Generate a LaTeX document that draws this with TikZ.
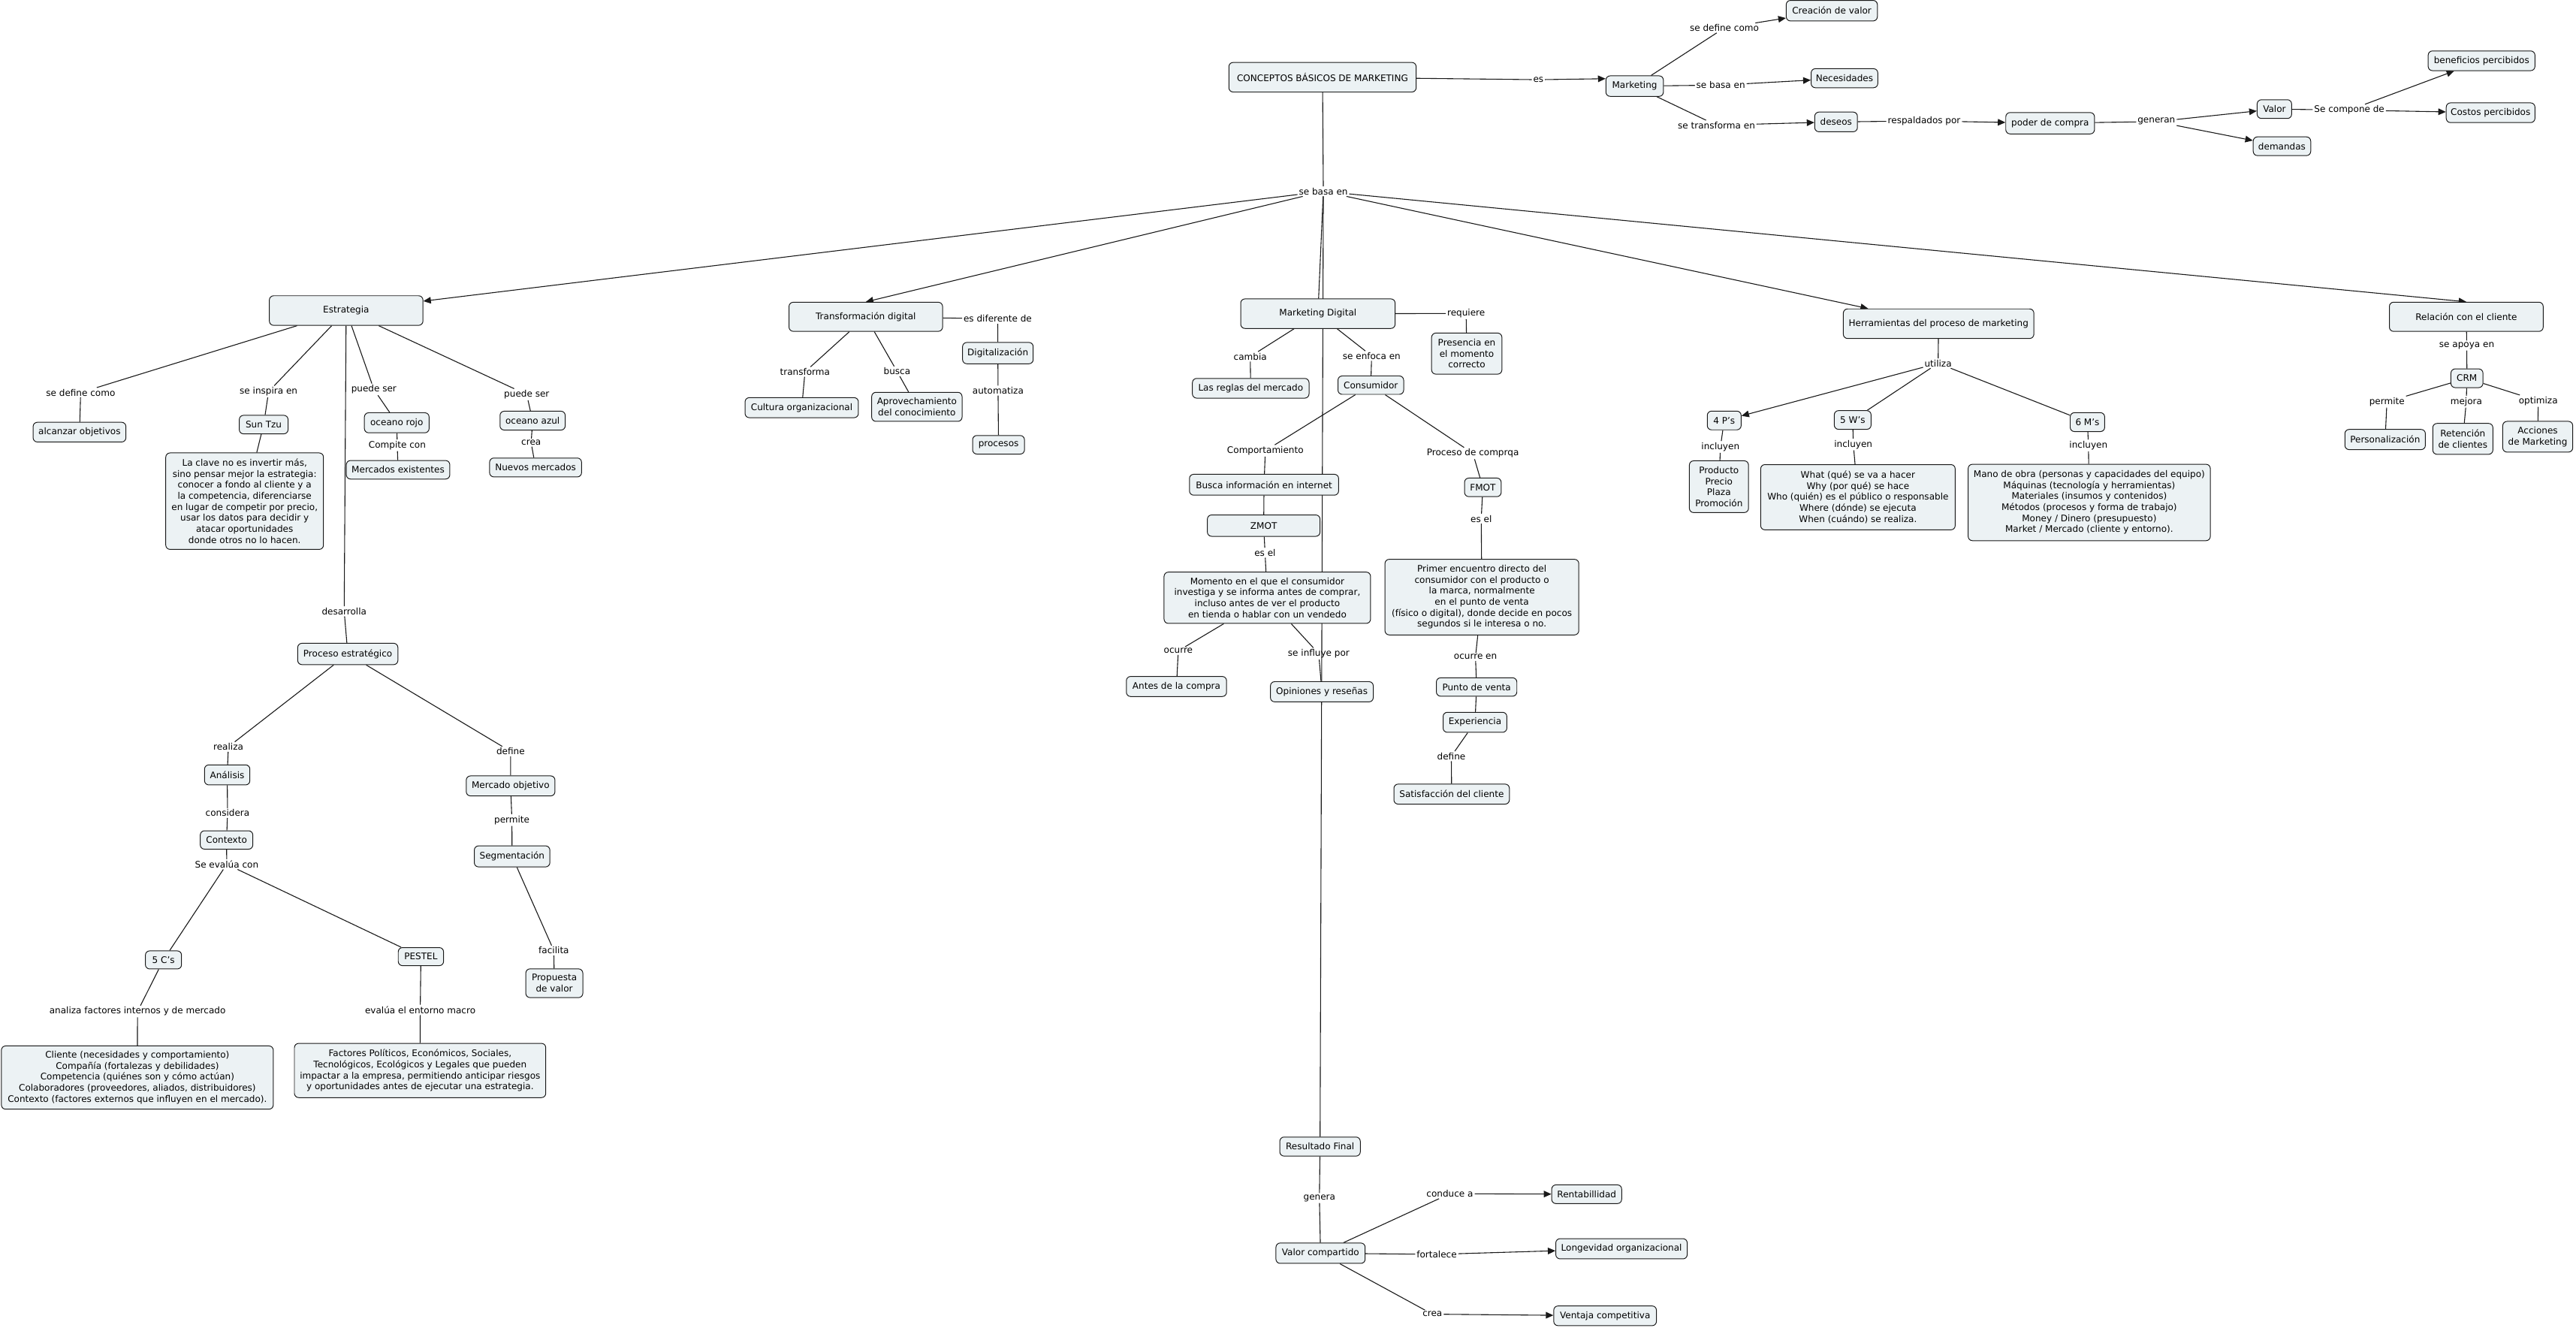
\documentclass[tikz,border=0pt]{standalone}
\usepackage{fontspec}
\setmainfont{DejaVu Sans}
\usetikzlibrary{arrows.meta}
\definecolor{boxfill}{RGB}{236,242,244}
\definecolor{edge}{RGB}{25,25,25}
\pgfdeclarelayer{bg}\pgfdeclarelayer{lines}\pgfsetlayers{bg,lines,main}
\newcommand\fs{\fontsize{5.5}{6.7}\selectfont}
\begin{document}
\begin{tikzpicture}[x=1pt,y=-1pt,
  bx/.style={draw=edge, line width=0.45pt, fill=boxfill, rounded corners=2.6pt, align=center, inner xsep=2pt, inner ysep=1.5pt, font=\fs},
  lb/.style={inner sep=0.7pt, font=\fs},
  cn/.style={draw=edge, line width=0.5pt},
  ar/.style={cn, -{Triangle[length=4.6pt,width=4pt]}}]
\useasboundingbox (0,0) rectangle (1568,808);
\begin{pgfonlayer}{bg}\fill[white] (0,0) rectangle (1568,808);\end{pgfonlayer}
% ---------- top ----------
\node[bx,minimum width=114pt,minimum height=18pt] (concepts) at (805,47) {CONCEPTOS BÁSICOS DE MARKETING};
\node[bx,minimum width=35pt,minimum height=12.5pt] (mkt) at (995,52.4) {Marketing};
\node[bx,minimum width=55.5pt,minimum height=12.5pt] (creav) at (1115,6.5) {Creación de valor};
\node[bx,minimum width=40.6pt,minimum height=11.6pt] (neces) at (1122.7,47.6) {Necesidades};
\node[bx,minimum width=26pt,minimum height=12pt] (deseos) at (1117.6,74.2) {deseos};
\node[bx,minimum width=54pt,minimum height=13pt] (poder) at (1247.9,75) {poder de compra};
\node[bx,minimum width=21pt,minimum height=11.4pt] (valor) at (1384.4,66.4) {Valor};
\node[bx,minimum width=35pt,minimum height=11.4pt] (demandas) at (1389,89) {demandas};
\node[bx,minimum width=65pt,minimum height=12pt] (benef) at (1510.5,37) {beneficios percibidos};
\node[bx,minimum width=54pt,minimum height=12pt] (costos) at (1516,68.6) {Costos percibidos};
\node[lb] (les) at (936.4,48.5) {es};
\node[lb] (ldef) at (1049.6,17) {se define como};
\node[lb] (lbasa1) at (1047.4,51.8) {se basa en};
\node[lb] (ltransf) at (1044.8,76.2) {se transforma en};
\node[lb] (lresp) at (1171.2,73.6) {respaldados por};
\node[lb] (lgen) at (1312.6,74) {generan};
\node[lb] (lcomp) at (1430,67) {Se compone de};
\node[lb] (lbasa) at (805.5,116.5) {se basa en};
% ---------- main ----------
\node[bx,minimum width=93.5pt,minimum height=18pt] (est) at (210.7,189) {Estrategia};
\node[bx,minimum width=93.5pt,minimum height=17.7pt] (td) at (527,192.8) {Transformación digital};
\node[bx,minimum width=94pt,minimum height=18pt] (md) at (802.2,190.9) {Marketing Digital};
\node[bx,minimum width=116pt,minimum height=18pt] (herr) at (1180,197) {Herramientas del proceso de marketing};
\node[bx,minimum width=93.6pt,minimum height=17.8pt] (rel) at (1501.2,192.8) {Relación con el cliente};
% ---------- Estrategia ----------
\node[lb] (lsdc) at (49.1,238.9) {se define como};
\node[bx,minimum width=56.5pt,minimum height=12pt] (alc) at (48.4,263) {alcanzar objetivos};
\node[lb] (linsp) at (163.5,238.3) {se inspira en};
\node[bx,minimum width=29.7pt,minimum height=11.3pt] (sun) at (160.5,258.4) {Sun Tzu};
\node[bx,minimum width=96pt,minimum height=58.7pt] (clave) at (148.9,305) {La clave no es invertir más,\\sino pensar mejor la estrategia:\\conocer a fondo al cliente y a\\la competencia, diferenciarse\\en lugar de competir por precio,\\usar los datos para decidir y\\atacar oportunidades\\donde otros no lo hacen.};
\node[lb] (lps1) at (227.6,237) {puede ser};
\node[bx,minimum width=39.4pt,minimum height=12.2pt] (rojo) at (241.5,257.3) {oceano rojo};
\node[lb] (lcompite) at (241.8,271) {Compite con};
\node[bx,minimum width=63pt,minimum height=11.3pt] (mercex) at (242.3,285.9) {Mercados existentes};
\node[lb] (lps2) at (320.6,240.1) {puede ser};
\node[bx,minimum width=39.7pt,minimum height=11.5pt] (azul) at (324.2,256) {oceano azul};
\node[lb] (lcrea1) at (323.3,269.4) {crea};
\node[bx,minimum width=56pt,minimum height=11.5pt] (nuevos) at (326,284.5) {Nuevos mercados};
\node[lb] (ldesa) at (209.5,372) {desarrolla};
\node[bx,minimum width=61pt,minimum height=13pt] (proc) at (211.7,398) {Proceso estratégico};
\node[lb] (lreal) at (139,454.5) {realiza};
\node[bx,minimum width=27.6pt,minimum height=12.2pt] (anal) at (138.3,471.6) {Análisis};
\node[lb] (lcons) at (138.5,494.8) {considera};
\node[bx,minimum width=32pt,minimum height=11.2pt] (ctx) at (137.9,511.2) {Contexto};
\node[lb] (leval) at (138,526) {Se evalúa con};
\node[bx,minimum width=22pt,minimum height=11pt] (c5) at (99.5,584.2) {5 C’s};
\node[bx,minimum width=27.6pt,minimum height=11pt] (pestel) at (256.2,582.2) {PESTEL};
\node[lb] (lanal) at (83.7,615.6) {analiza factores internos y de mercado};
\node[bx,minimum width=165.5pt,minimum height=38.5pt] (cliente) at (83.6,655.8) {Cliente (necesidades y comportamiento)\\Compañía (fortalezas y debilidades)\\Competencia (quiénes son y cómo actúan)\\Colaboradores (proveedores, aliados, distribuidores)\\Contexto (factores externos que influyen en el mercado).};
\node[lb] (lent) at (255.8,614.6) {evalúa el entorno macro};
\node[bx,minimum width=153pt,minimum height=33pt] (factores) at (255.7,651.5) {Factores Políticos, Económicos, Sociales,\\Tecnológicos, Ecológicos y Legales que pueden\\impactar a la empresa, permitiendo anticipar riesgos\\y oportunidades antes de ejecutar una estrategia.};
\node[lb] (ldef2) at (310.8,457.3) {define};
\node[bx,minimum width=54pt,minimum height=12.2pt] (mobj) at (310.8,478.3) {Mercado objetivo};
\node[lb] (lperm) at (311.6,499.1) {permite};
\node[bx,minimum width=46pt,minimum height=12.8pt] (seg) at (311.7,521.2) {Segmentación};
\node[lb] (lfac) at (337.1,578.5) {facilita};
\node[bx,minimum width=34.7pt,minimum height=17.5pt] (prop) at (337.4,598.4) {Propuesta\\de valor};
% ---------- Transformacion digital ----------
\node[lb] (ltr) at (490,226.3) {transforma};
\node[bx,minimum width=69pt,minimum height=12.2pt] (cult) at (488,248.1) {Cultura organizacional};
\node[lb] (lbusca) at (546,226) {busca};
\node[bx,minimum width=55pt,minimum height=17.7pt] (aprov) at (558.1,247.6) {Aprovechamiento\\del conocimiento};
\node[lb] (ldif) at (607.3,194) {es diferente de};
\node[bx,minimum width=43pt,minimum height=13pt] (digit) at (607.4,214.9) {Digitalización};
\node[lb] (lauto) at (607.5,237.7) {automatiza};
\node[bx,minimum width=31.6pt,minimum height=11.3pt] (procs) at (607.8,270.7) {procesos};
% ---------- Marketing digital ----------
\node[lb] (lreq) at (892.4,190.8) {requiere};
\node[bx,minimum width=42.8pt,minimum height=25pt] (pres) at (892.8,215.2) {Presencia en\\el momento\\correcto};
\node[lb] (lcambia) at (761,217) {cambia};
\node[bx,minimum width=71pt,minimum height=12pt] (reglas) at (761.3,236.3) {Las reglas del mercado};
\node[lb] (lenf) at (834.9,216.6) {se enfoca en};
\node[bx,minimum width=40pt,minimum height=11.2pt] (consu) at (834.4,234.4) {Consumidor};
\node[lb] (lcomport) at (770.2,274.3) {Comportamiento};
\node[bx,minimum width=90.8pt,minimum height=12.7pt] (busca) at (769.4,295) {Busca información en internet};
\node[bx,minimum width=68.6pt,minimum height=13pt] (zmot) at (769.2,319.9) {ZMOT};
\node[lb] (lesel1) at (770,336.4) {es el};
\node[bx,minimum width=125.7pt,minimum height=31.2pt] (momento) at (771.4,363.8) {Momento en el que el consumidor\\investiga y se informa antes de comprar,\\incluso antes de ver el producto\\en tienda o hablar con un vendedo};
\node[lb] (locurre) at (717.2,396.1) {ocurre};
\node[bx,minimum width=61pt,minimum height=12.2pt] (antes) at (716.1,417.8) {Antes de la compra};
\node[lb] (linfl) at (802.7,397.8) {se influye por};
\node[bx,minimum width=62.6pt,minimum height=12.3pt] (opin) at (804.6,421) {Opiniones y reseñas};
\node[lb] (lproc) at (896.5,275.9) {Proceso de comprqa};
\node[bx,minimum width=22.3pt,minimum height=11.3pt] (fmot) at (902.6,296.6) {FMOT};
\node[lb] (lesel2) at (901.6,315.7) {es el};
\node[bx,minimum width=118pt,minimum height=46pt] (primer) at (902,363.4) {Primer encuentro directo del\\consumidor con el producto o\\la marca, normalmente\\en el punto de venta\\(físico o digital), donde decide en pocos\\segundos si le interesa o no.};
\node[lb] (locen) at (898.1,399.8) {ocurre en};
\node[bx,minimum width=49pt,minimum height=11.2pt] (pventa) at (898.8,418.1) {Punto de venta};
\node[bx,minimum width=38.8pt,minimum height=12.2pt] (exper) at (897.8,439.6) {Experiencia};
\node[lb] (ldefine3) at (883.4,460.2) {define};
\node[bx,minimum width=70.3pt,minimum height=12.2pt] (satisf) at (883.6,483.3) {Satisfacción del cliente};
% ---------- bottom ----------
\node[bx,minimum width=49pt,minimum height=11.6pt] (resfin) at (803.5,697.8) {Resultado Final};
\node[lb] (lgenera) at (803.1,729.1) {genera};
\node[bx,minimum width=54.3pt,minimum height=12.4pt] (vcomp) at (803.8,762.7) {Valor compartido};
\node[lb] (lcond) at (882.5,726.5) {conduce a};
\node[bx,minimum width=42.6pt,minimum height=11.4pt] (rentab) at (965.8,726.8) {Rentabillidad};
\node[lb] (lfort) at (874.5,763.4) {fortalece};
\node[bx,minimum width=80pt,minimum height=12.3pt] (longev) at (987,760) {Longevidad organizacional};
\node[lb] (lcrea2) at (871.9,799.8) {crea};
\node[bx,minimum width=62.5pt,minimum height=12pt] (ventaja) at (977,800.8) {Ventaja competitiva};
% ---------- Herramientas ----------
\node[lb] (lutil) at (1179.7,221.1) {utiliza};
\node[bx,minimum width=20.6pt,minimum height=11.4pt] (p4) at (1049.5,255.9) {4 P's};
\node[lb] (linc1) at (1047.2,272) {incluyen};
\node[bx,minimum width=36pt,minimum height=31.5pt] (prod) at (1046.3,296.2) {Producto\\Precio\\Plaza\\Promoción};
\node[bx,minimum width=22.4pt,minimum height=11.4pt] (w5) at (1127.7,255.6) {5 W's};
\node[lb] (linc2) at (1128.1,270.5) {incluyen};
\node[bx,minimum width=118.4pt,minimum height=39.7pt] (what) at (1130.9,302.6) {What (qué) se va a hacer\\Why (por qué) se hace\\Who (quién) es el público o responsable\\Where (dónde) se ejecuta\\When (cuándo) se realiza.};
\node[bx,minimum width=21pt,minimum height=11.5pt] (m6) at (1270.6,256.9) {6 M's};
\node[lb] (linc3) at (1271.2,271.1) {incluyen};
\node[bx,minimum width=147.4pt,minimum height=46.5pt] (mano) at (1271.7,305.8) {Mano de obra (personas y capacidades del equipo)\\Máquinas (tecnología y herramientas)\\Materiales (insumos y contenidos)\\Métodos (procesos y forma de trabajo)\\Money / Dinero (presupuesto)\\Market / Mercado (cliente y entorno).};
% ---------- Relacion ----------
\node[lb] (lapoya) at (1501.5,210.3) {se apoya en};
\node[bx,minimum width=19.5pt,minimum height=11.4pt] (crm) at (1501.6,230.2) {CRM};
\node[lb] (lpermite) at (1452.9,244.5) {permite};
\node[lb] (lmejora) at (1501.2,244.5) {mejora};
\node[lb] (loptim) at (1545,244) {optimiza};
\node[bx,minimum width=49pt,minimum height=12.3pt] (person) at (1451.8,267.5) {Personalización};
\node[bx,minimum width=36.6pt,minimum height=18.8pt] (reten) at (1499.1,267.1) {Retención\\de clientes};
\node[bx,minimum width=42.6pt,minimum height=18.7pt] (acc) at (1544.7,265.8) {Acciones\\de Marketing};
% ---------- connectors ----------
\begin{pgfonlayer}{lines}
\draw[cn] (concepts) -- (les);
\draw[ar] (les) -- ([yshift=4.5pt]mkt.west);
\draw[cn] (mkt) -- (ldef);
\draw[ar] (ldef) -- (creav);
\draw[cn] (mkt) -- (lbasa1);
\draw[ar] (lbasa1) -- (neces);
\draw[cn] (mkt) -- (ltransf);
\draw[ar] (ltransf) -- (deseos);
\draw[cn] (deseos) -- (lresp);
\draw[ar] (lresp) -- (poder);
\draw[cn] (poder) -- (lgen);
\draw[ar] (lgen) -- (valor);
\draw[ar] (lgen) -- (demandas);
\draw[cn] (valor) -- (lcomp);
\draw[ar] (lcomp) -- (benef);
\draw[ar] (lcomp) -- (costos);
\draw[cn] (concepts) -- (lbasa);
\draw[ar] (lbasa) -- (est);
\draw[ar] (lbasa) -- (td.north);
\draw[cn] (lbasa) -- (md);
\draw[ar] (lbasa) -- (herr);
\draw[ar] (lbasa) -- (rel.north);
\draw[cn] (lbasa) -- (resfin);
% Estrategia
\draw[cn] (est) -- (lsdc) -- (alc);
\draw[cn] (est) -- (linsp) -- (sun) -- (clave);
\draw[cn] (est) -- (lps1) -- (rojo) -- (lcompite) -- (mercex);
\draw[cn] (est) -- (lps2) -- (azul) -- (lcrea1) -- (nuevos);
\draw[cn] (est) -- (ldesa) -- (proc);
\draw[cn] (proc) -- (lreal) -- (anal) -- (lcons) -- (ctx) -- (leval);
\draw[cn] (leval) -- (c5);
\draw[cn] (leval) -- (pestel);
\draw[cn] (c5) -- (lanal) -- (cliente);
\draw[cn] (pestel) -- (lent) -- (factores);
\draw[cn] (proc) -- (ldef2) -- (mobj) -- (lperm) -- (seg) -- (lfac) -- (prop);
% TD
\draw[cn] (td) -- (ltr) -- (cult);
\draw[cn] (td) -- (lbusca) -- (aprov);
\draw[cn] (td) -- (ldif) -- (digit) -- (lauto) -- (procs);
% MD
\draw[cn] (md) -- (lcambia) -- (reglas);
\draw[cn] (md) -- (lenf) -- (consu);
\draw[cn] (md) -- (lreq) -- (pres);
\draw[cn] (consu) -- (lcomport) -- (busca) -- (zmot) -- (lesel1) -- (momento);
\draw[cn] (momento) -- (locurre) -- (antes);
\draw[cn] (momento) -- (linfl) -- (opin);
\draw[cn] (consu) -- (lproc) -- (fmot) -- (lesel2) -- (primer) -- (locen) -- (pventa) -- (exper) -- (ldefine3) -- (satisf);
% bottom
\draw[cn] (resfin) -- (lgenera) -- (vcomp);
\draw[cn] (vcomp) -- (lcond);
\draw[ar] (lcond) -- (rentab);
\draw[cn] (vcomp) -- (lfort);
\draw[ar] (lfort) -- (longev);
\draw[cn] (vcomp) -- (lcrea2);
\draw[ar] (lcrea2) -- (ventaja);
% Herramientas
\draw[cn] (herr) -- (lutil);
\draw[ar] (lutil) -- (p4);
\draw[cn] (lutil) -- (w5);
\draw[cn] (lutil) -- (m6);
\draw[cn] (p4) -- (linc1) -- (prod);
\draw[cn] (w5) -- (linc2) -- (what);
\draw[cn] (m6) -- (linc3) -- (mano);
% Relacion
\draw[cn] (rel) -- (lapoya) -- (crm);
\draw[cn] (crm) -- (lpermite) -- (person);
\draw[cn] (crm) -- (lmejora) -- (reten);
\draw[cn] (crm) -- (loptim) -- (acc);
\end{pgfonlayer}
\end{tikzpicture}
\end{document}
